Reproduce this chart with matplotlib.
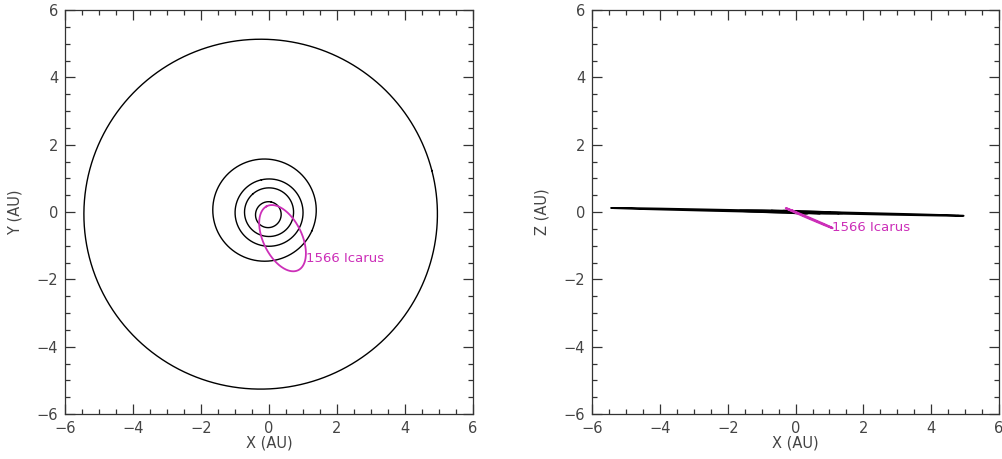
import matplotlib.pyplot as plt
import numpy as np
from matplotlib.ticker import MultipleLocator

# orbital elements: a (AU), e, i (deg), node (deg), arg. perihelion (deg)
names = ["Mercury", "Venus", "Earth", "Mars", "Jupiter", "1566 Icarus"]
semi_major = [0.387, 0.723, 1.000, 1.524, 5.203, 1.078]
eccentricity = [0.2056, 0.0068, 0.0167, 0.0934, 0.0484, 0.827]
inclination = [7.00, 3.39, 0.0, 1.85, 1.30, 22.83]
asc_node = [48.3, 76.7, 0.0, 49.6, 100.5, 87.95]
arg_peri = [29.1, 54.9, 102.9, 286.5, 273.9, 31.4]
colors = ["black", "black", "black", "black", "black", "#cc2fb8"]

label_xy = (1.08, -1.37)
label_xz = (1.08, -0.47)

txt = "#444444"


def orbit_xyz(a, e, inc, node, peri, n=721):
    nu = np.linspace(0, 2 * np.pi, n)
    r = a * (1 - e ** 2) / (1 + e * np.cos(nu))
    u = np.radians(peri) + nu
    om, i = np.radians(node), np.radians(inc)
    x = r * (np.cos(om) * np.cos(u) - np.sin(om) * np.sin(u) * np.cos(i))
    y = r * (np.sin(om) * np.cos(u) + np.cos(om) * np.sin(u) * np.cos(i))
    z = r * np.sin(u) * np.sin(i)
    return x, y, z


def style_axes(ax, ylabel):
    ax.set_xlim(-6, 6)
    ax.set_ylim(-6, 6)
    ax.xaxis.set_major_locator(MultipleLocator(2))
    ax.yaxis.set_major_locator(MultipleLocator(2))
    ax.xaxis.set_minor_locator(MultipleLocator(0.5))
    ax.yaxis.set_minor_locator(MultipleLocator(0.5))
    ax.tick_params(which="both", direction="in", top=True, right=True,
                   colors="#333333", labelcolor=txt, labelsize=10.5, width=0.9)
    ax.tick_params(which="major", length=7, pad=5)
    ax.tick_params(which="minor", length=3.5)
    for s in ax.spines.values():
        s.set_linewidth(0.9)
        s.set_color("#333333")
    ax.set_xlabel("X (AU)", fontsize=10.5, color=txt, labelpad=0)
    ax.set_ylabel(ylabel, fontsize=10.5, color=txt, labelpad=10)


fig = plt.figure(figsize=(10.02, 4.59), dpi=100)
ax1 = fig.add_axes([0.0649, 0.098, 0.407, 0.880])
ax2 = fig.add_axes([0.591, 0.098, 0.406, 0.880])

for k in range(len(names)):
    x, y, z = orbit_xyz(semi_major[k], eccentricity[k], inclination[k],
                        asc_node[k], arg_peri[k])
    lw = 1.3 if k == len(names) - 1 else 1.0
    ax1.plot(x, y, color=colors[k], lw=lw)
    ax2.plot(x, z, color=colors[k], lw=lw + 0.3)

ax1.text(label_xy[0], label_xy[1], names[-1], color=colors[-1], fontsize=9.5,
         ha="left", va="center")
ax2.text(label_xz[0], label_xz[1], names[-1], color=colors[-1], fontsize=9.5,
         ha="left", va="center")

style_axes(ax1, "Y (AU)")
style_axes(ax2, "Z (AU)")

fig.savefig("out.png", dpi=100)
